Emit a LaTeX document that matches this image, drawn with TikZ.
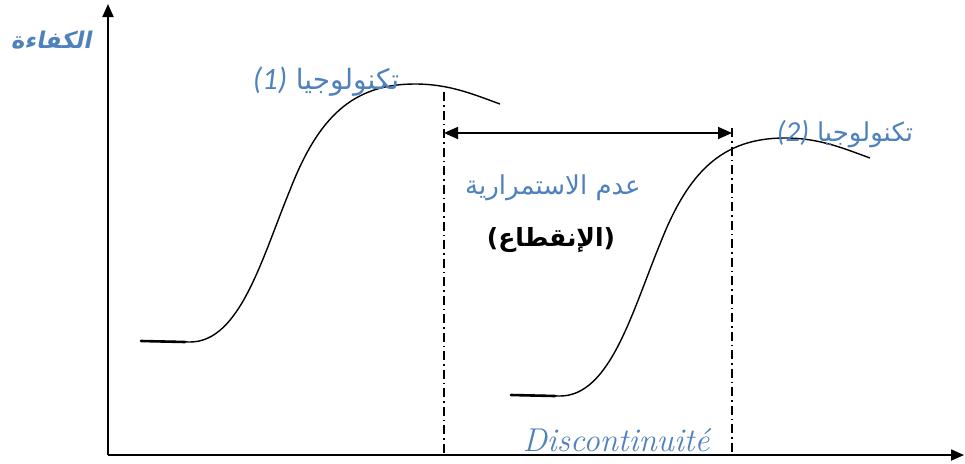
\documentclass[tikz,border=0pt]{standalone}
\usepackage{fontspec}
\usetikzlibrary{arrows.meta}
\TeXXeTstate=1
\newfontfamily\arabicfont[Script=Arabic]{DejaVu Sans}
\newfontfamily\arabicbs[Script=Arabic,FakeSlant=0.2,BoldFont={DejaVu Sans Bold}]{DejaVu Sans}
\newfontfamily\plainsans{DejaVu Sans}
\newfontfamily\numfont{Carlito}
\definecolor{txtblue}{HTML}{4F81BD}
\tikzset{
  axis/.style={line width=1.8pt,-{Triangle[length=13pt,width=11pt]}},
  curve/.style={line width=1.4pt},
  guide/.style={line width=1.2pt,dash pattern=on 9pt off 4pt on 1.5pt off 4pt},
  span/.style={line width=1.8pt,{Triangle[length=14pt,width=12pt]}-{Triangle[length=14pt,width=12pt]}},
  bluelab/.style={text=txtblue,inner sep=0pt},
}
\begin{document}
\begin{tikzpicture}[x=1pt,y=-1pt]
\useasboundingbox (0,0) rectangle (965,463);
% axes
\coordinate (origin) at (108,455);
\coordinate (ytip) at (108,4);
\coordinate (xtip) at (964,455);
\draw[axis] (origin) -- (ytip);
\draw[axis] (origin) -- (xtip);
% curves
\foreach \dx/\dy in {0/0,370/54}{
\begin{scope}[shift={(\dx,\dy)}]
\draw[line width=2.6pt,line cap=round] (141,341) -- (185,342);
\draw[curve] (141,341) -- (190,342) .. controls (240,342) and (262,258) .. (290,190)
  .. controls (318,118) and (352,84) .. (415,84)
  .. controls (450,84) and (475,95) .. (500,104);
\end{scope}}
% guides
\coordinate (g1top) at (444,92);
\coordinate (g1bot) at (444,455);
\coordinate (g2top) at (732,128);
\coordinate (g2bot) at (732,455);
\draw[guide] (g1top) -- (g1bot);
\draw[guide] (g2top) -- (g2bot);
\coordinate (s1) at (444,133);
\coordinate (s2) at (732,133);
\draw[span] (s1) -- (s2);
% labels
\node[bluelab,font=\fontsize{23}{26}\selectfont] (ylab) at (51,40) {\arabicbs\bfseries\beginR الكفاءة\endR};
\node[bluelab,font=\fontsize{28}{32}\selectfont] (t1) at (326,82) {{\numfont\itshape\fontsize{31}{34}\selectfont(1)} {\arabicfont\beginR تكنولوجيا\endR}};
\node[bluelab,font=\fontsize{26}{30}\selectfont] (t2) at (845,134) {{\numfont\itshape\fontsize{29}{32}\selectfont(2)} {\arabicfont\beginR تكنولوجيا\endR}};
\node[bluelab,font=\fontsize{26}{30}\selectfont] (disc) at (553,188) {\arabicfont\beginR عدم الاستمرارية\endR};
\node[inner sep=0pt,font=\fontsize{25}{28}\selectfont] (cut) at (551,240) {{\plainsans\bfseries(}{\arabicfont\bfseries\beginR الإنقطاع\endR}{\plainsans\bfseries)}};
\node[bluelab,font=\fontsize{33}{36}\selectfont\itshape] (fr) at (616,440) {Discontinuité};
\end{tikzpicture}
\end{document}
